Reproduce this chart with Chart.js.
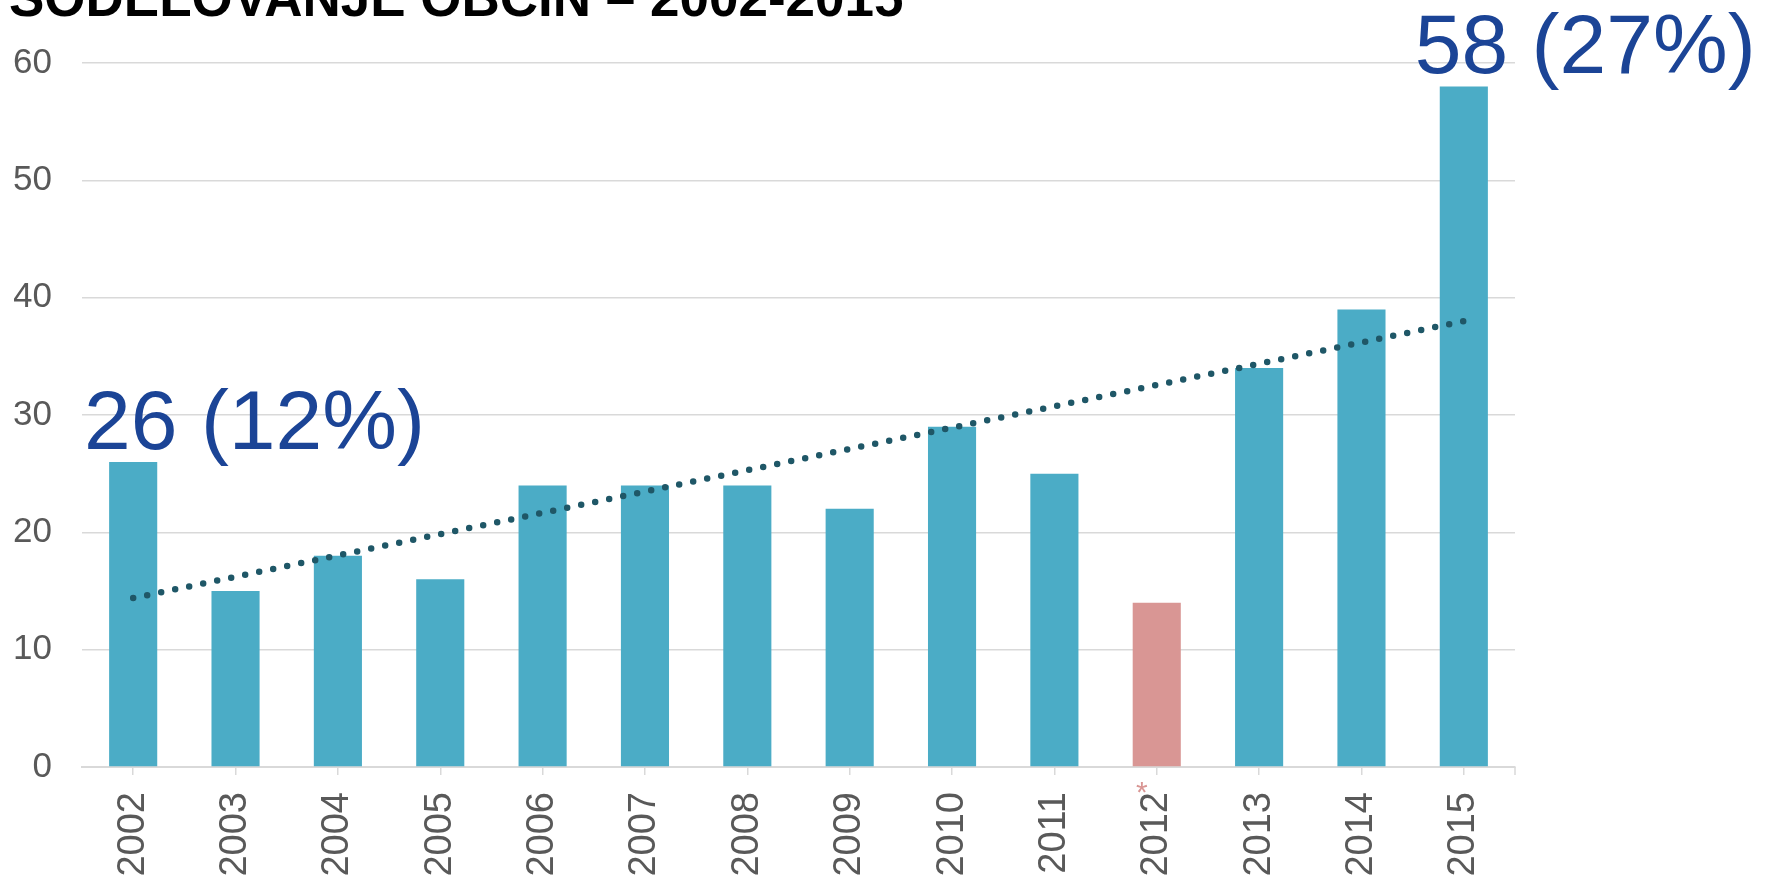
<!DOCTYPE html>
<html>
<head>
<meta charset="utf-8">
<script src="https://cdn.jsdelivr.net/npm/chart.js@4"></script>
<style>
  html, body { margin: 0; padding: 0; background: #fff; }
  #wrap { width: 1777px; height: 883px; }
</style>
</head>
<body>
<div id="wrap"><canvas id="chart" width="1777" height="883"></canvas></div>
<script>
// chart values
var years = ['2002', '2003', '2004', '2005', '2006', '2007', '2008', '2009', '2010', '2011', '2012', '2013', '2014', '2015'];
var municipalities = [26, 15, 18, 16, 24, 24, 24, 22, 29, 25, 14, 34, 39, 58];
// dotted trend line, only its two end values
var trendValues = [14.4, null, null, null, null, null, null, null, null, null, null, null, null, 38.0];
var yTicks = [0, 10, 20, 30, 40, 50, 60];
var callouts = ['26 (12%)', '', '', '', '', '', '', '', '', '', '', '', '', '58 (27%)'];
var starredYear = '2012';
var titleText = 'SODELOVANJE OBČIN – 2002-2015';

var FONT = '"Liberation Sans", Arial, sans-serif';
var barBlue = '#4BACC6';
var barPink = '#D99694';

var barColors = years.map(function (y) { return y === starredYear ? barPink : barBlue; });

// title (cut off at the top), callouts, asterisk, last axis tick
var extras = {
    id: 'extras',
    afterDraw: function (chart) {
        var c = chart.ctx;
        var area = chart.chartArea;
        var xs = chart.scales.x;
        c.save();

        c.fillStyle = '#000';
        c.font = 'bold 53px ' + FONT;
        c.textBaseline = 'alphabetic';
        c.textAlign = 'left';
        c.fillText(titleText, 9, 16);

        // end tick on the x axis
        c.strokeStyle = '#d9d9d9';
        c.lineWidth = 1.5;
        c.beginPath();
        c.moveTo(area.right, area.bottom);
        c.lineTo(area.right, area.bottom + 8);
        c.stroke();

        // callouts above bars
        var bars = chart.getDatasetMeta(1).data;
        c.fillStyle = '#1B4496';
        c.font = '84px ' + FONT;
        callouts.forEach(function (txt, i) {
            if (!txt) return;
            var b = bars[i];
            var left = b.x - b.width / 2;
            c.fillText(txt, left - 25, b.y - 13);
        });

        // asterisk next to 2012
        var idx = years.indexOf(starredYear);
        c.fillStyle = barPink;
        c.font = '30px ' + FONT;
        c.textAlign = 'center';
        c.fillText('*', xs.getPixelForValue(idx) - 15, area.bottom + 35);

        c.restore();
    }
};

var chart = new Chart(document.getElementById('chart'), {
    type: 'bar',
    data: {
        labels: years,
        datasets: [
            {
                type: 'line',
                label: 'Trend',
                data: trendValues,
                spanGaps: true,
                borderColor: '#1F5767',
                borderWidth: 6.5,
                borderDash: [0, 14.3],
                borderCapStyle: 'round',
                pointRadius: 0,
                fill: false,
                order: 0
            },
            {
                label: 'Občine',
                data: municipalities,
                backgroundColor: barColors,
                barPercentage: 0.47,
                categoryPercentage: 1.0,
                order: 1
            }
        ]
    },
    options: {
        responsive: false,
        animation: false,
        layout: { padding: { left: 14, right: 262, top: 63, bottom: 6 } },
        plugins: {
            legend: { display: false },
            tooltip: { enabled: false }
        },
        scales: {
            x: {
                offset: true,
                afterFit: function (s) {
                    s.height = 110;
                    s.paddingLeft = 0;
                    s.paddingRight = 0;
                },
                grid: { offset: false, drawOnChartArea: false, drawTicks: true, tickLength: 8, color: '#d9d9d9', lineWidth: 1.5 },
                border: { color: '#d9d9d9', width: 2 },
                ticks: {
                    color: '#595959',
                    font: { family: FONT, size: 38 },
                    maxRotation: 90,
                    minRotation: 90,
                    padding: 17,
                    autoSkip: false
                }
            },
            y: {
                min: yTicks[0],
                max: yTicks[yTicks.length - 1],
                afterBuildTicks: function (scale) {
                    scale.ticks = yTicks.map(function (v) { return { value: v }; });
                },
                afterFit: function (s) {
                    s.width = 68;
                },
                grid: { color: '#d9d9d9', lineWidth: 1.5, drawTicks: false },
                border: { display: false },
                ticks: {
                    color: '#595959',
                    font: { family: FONT, size: 35 },
                    padding: 30
                }
            }
        }
    },
    plugins: [extras]
});
</script>
</body>
</html>
